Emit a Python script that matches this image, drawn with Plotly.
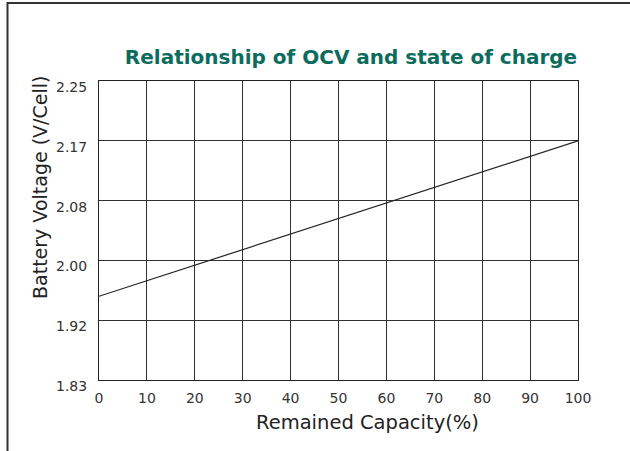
import numpy as np
import plotly.graph_objects as go

# Data
capacity = [0, 100]
voltage = [1.9476, 2.166]
x_ticks = [0, 10, 20, 30, 40, 50, 60, 70, 80, 90, 100]
y_tickvals = [1.83, 1.914, 1.998, 2.082, 2.166, 2.25]
y_ticklabels = ["1.83", "1.92", "2.00", "2.08", "2.17", "2.25"]

W, H = 630, 451
L, R, T, B = 99, 52, 81, 71
pw, ph = W - L - R, H - T - B

def px_x(p):
    return (p - L) / pw

def px_y(p):
    return 1 - (p - T) / ph

TICKFONT = dict(family="DejaVu Sans", size=14, color="#333333")

fig = go.Figure()
fig.add_trace(go.Scatter(x=capacity, y=voltage, mode="lines",
                         line=dict(color="#222222", width=1.2),
                         hoverinfo="skip", showlegend=False))

annotations = []
for v, t in zip(y_tickvals, y_ticklabels):
    annotations.append(dict(x=px_x(89), xref="paper", y=v, yref="y", text=t,
                            showarrow=False, xanchor="right", yanchor="middle",
                            yshift=-6, font=TICKFONT))
annotations.append(dict(x=px_x(40), xref="paper", y=px_y(188), yref="paper",
                        text="Battery Voltage (V/Cell)", textangle=-90, showarrow=False,
                        xanchor="center", yanchor="middle",
                        font=dict(family="DejaVu Sans", size=19, color="#222222")))
annotations.append(dict(x=px_x(367), xref="paper", y=px_y(423), yref="paper",
                        text="Remained Capacity(%)", showarrow=False,
                        xanchor="center", yanchor="middle",
                        font=dict(family="DejaVu Sans", size=19.5, color="#222222")))

shapes = [
    dict(type="line", xref="paper", yref="paper", x0=px_x(7), x1=px_x(632),
         y0=px_y(3), y1=px_y(3), line=dict(color="#333333", width=2)),
    dict(type="line", xref="paper", yref="paper", x0=px_x(7.5), x1=px_x(7.5),
         y0=px_y(2), y1=px_y(455), line=dict(color="#333333", width=2)),
]

fig.update_layout(
    width=W, height=H,
    margin=dict(l=L, r=R, t=T, b=B),
    paper_bgcolor="white", plot_bgcolor="white",
    title=dict(text="<b>Relationship of OCV and state of charge</b>",
               x=px_x(351), xref="paper", xanchor="center",
               y=1 - 57 / H, yref="container", yanchor="middle",
               font=dict(family="DejaVu Sans", size=20, color="#0b6b5c")),
    xaxis=dict(range=[0, 100], tickvals=x_ticks, showgrid=True, gridcolor="#333333",
               gridwidth=1, showline=True, linecolor="#222222", linewidth=1, mirror=True,
               zeroline=False, ticks="", tickfont=TICKFONT, ticklabelstandoff=5,
               fixedrange=True),
    yaxis=dict(range=[1.83, 2.25], tickvals=y_tickvals, ticktext=["" for _ in y_tickvals],
               showgrid=True, gridcolor="#333333", gridwidth=1, showline=True,
               linecolor="#222222", linewidth=1, mirror=True, zeroline=False, ticks="",
               fixedrange=True),
    annotations=annotations,
    shapes=shapes,
)

fig.write_html("out.html", config={"displayModeBar": False},
               post_script="document.body.style.margin='0';document.body.style.overflow='hidden';")
